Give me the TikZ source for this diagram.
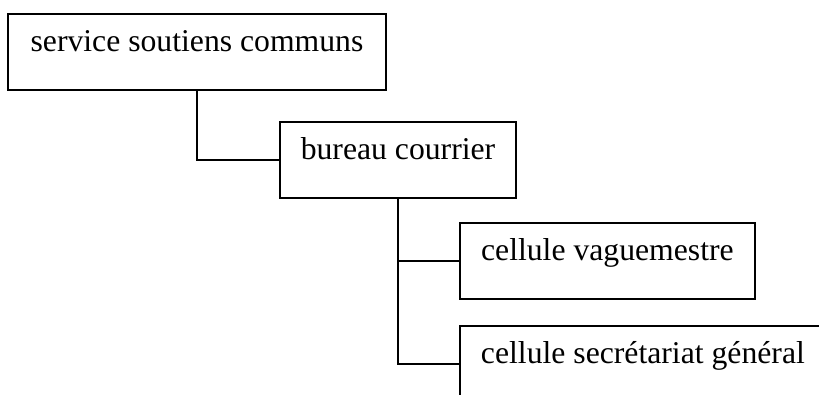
\documentclass[tikz,border=0pt]{standalone}
\usepackage{fontspec}
\setmainfont{Liberation Serif}
\begin{document}
\begin{tikzpicture}[x=1pt,y=-1pt,
  box/.style={draw, line width=1.8pt, inner sep=0pt, text height=38pt, text depth=38pt,
    font=\fontsize{31.7}{38}\selectfont},
  link/.style={line width=1.8pt}]
\useasboundingbox (0,0) rectangle (819,394);
\clip (0,0) rectangle (819,394);
\node[box, minimum width=378pt, anchor=north] (s) at (197,13) {service soutiens communs};
\node[box, minimum width=236pt, anchor=north] (b) at (398,121) {bureau courrier};
\node[box, minimum width=295pt, anchor=north west] (v) at (459,222) {cellule vaguemestre};
\node[box, minimum width=366pt, anchor=north west] (g) at (459,325) {cellule secrétariat général};
\draw[link] (s.south) |- (b.west);
\draw[link] (b.south) |- (v.west);
\draw[link] (b.south) |- (g.west);
\end{tikzpicture}
\end{document}
